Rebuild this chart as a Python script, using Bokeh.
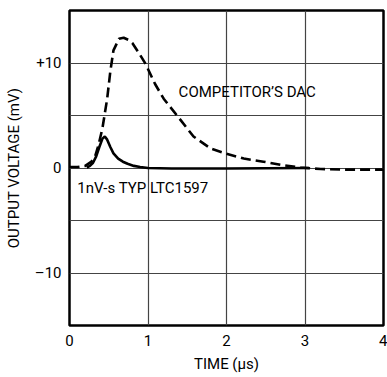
from bokeh.plotting import figure
from bokeh.models import FixedTicker, Label
from bokeh.embed import file_html
from bokeh.resources import INLINE

# Competitor's DAC glitch (dashed)
comp_x = [0.0, 0.1, 0.2, 0.28, 0.33, 0.37, 0.42, 0.48, 0.52, 0.56, 0.63, 0.69, 0.75, 0.8,
          0.88, 0.97, 1.09, 1.2, 1.38, 1.58, 1.8, 2.0, 2.22, 2.47, 2.69, 2.94, 3.2, 3.5, 4.0]
comp_y = [0.1, 0.1, 0.2, 0.6, 1.2, 2.2, 3.8, 6.6, 9.2, 11.2, 12.3, 12.4, 12.2, 11.9,
          11.0, 9.9, 8.0, 6.6, 4.9, 3.0, 1.85, 1.35, 0.9, 0.6, 0.3, 0.05, -0.1, -0.15, -0.15]

# LTC1597 glitch (solid)
ltc_x = [0.22, 0.26, 0.3, 0.34, 0.38, 0.42, 0.45, 0.48, 0.52, 0.56, 0.62, 0.68, 0.74,
         0.82, 0.9, 1.0, 1.3, 2.0, 2.5, 3.05]
ltc_y = [0.05, 0.2, 0.5, 1.1, 2.0, 2.8, 3.0, 2.7, 2.0, 1.4, 0.9, 0.6, 0.4,
         0.2, 0.1, 0.0, -0.05, -0.05, -0.02, 0.0]

x_ticks = [0, 1, 2, 3, 4]
x_labels = ["0", "1", "2", "3", "4"]
y_ticks = [-15, -10, -5, 0, 5, 10, 15]
y_labels = ["", "\u201310", "", "0", "", "+10", ""]

FONT = "Roboto"
FS = "15px"

p = figure(width=387, height=377, x_range=(0, 4), y_range=(-15, 15),
           output_backend="svg", toolbar_location=None,
           min_border_left=69, min_border_right=4, min_border_top=10, min_border_bottom=52)

p.outline_line_color = "black"
p.outline_line_width = 2.5

for ax in (p.xaxis[0], p.yaxis[0]):
    ax.axis_line_color = None
    ax.major_tick_line_color = None
    ax.minor_tick_line_color = None
    ax.major_tick_in = 0
    ax.major_tick_out = 0
    ax.major_label_text_font = FONT
    ax.major_label_text_font_size = FS
    ax.major_label_text_color = "black"
    ax.axis_label_text_font = FONT
    ax.axis_label_text_font_size = FS
    ax.axis_label_text_font_style = "normal"
    ax.axis_label_text_color = "black"

p.xaxis.ticker = FixedTicker(ticks=x_ticks)
p.xaxis.major_label_overrides = {t: l for t, l in zip(x_ticks, x_labels)}
p.yaxis.ticker = FixedTicker(ticks=y_ticks)
p.yaxis.major_label_overrides = {t: l for t, l in zip(y_ticks, y_labels)}
p.xaxis.major_label_standoff = 9
p.yaxis.major_label_standoff = 8
p.xaxis.axis_label = "TIME (\u00b5s)"
p.yaxis.axis_label = "OUTPUT VOLTAGE (mV)"
p.xaxis.axis_label_standoff = 6
p.yaxis.axis_label_standoff = 9

p.xgrid.ticker = FixedTicker(ticks=x_ticks)
p.ygrid.ticker = FixedTicker(ticks=y_ticks)
for g in (p.xgrid[0], p.ygrid[0]):
    g.grid_line_color = "#444444"
    g.grid_line_width = 1.2

p.line(comp_x, comp_y, line_color="black", line_width=2.6, line_dash="10 5")
p.line(ltc_x, ltc_y, line_color="black", line_width=2.6)

p.add_layout(Label(x=1.39, y=7.2, text="COMPETITOR\u2019S DAC", text_font=FONT,
                   text_font_size=FS, text_baseline="middle", text_color="black"))
p.add_layout(Label(x=0.1, y=-1.9, text="1nV-s TYP  LTC1597", text_font=FONT,
                   text_font_size=FS, text_baseline="middle", text_color="black"))

open("out.html", "w").write(file_html(p, INLINE))
